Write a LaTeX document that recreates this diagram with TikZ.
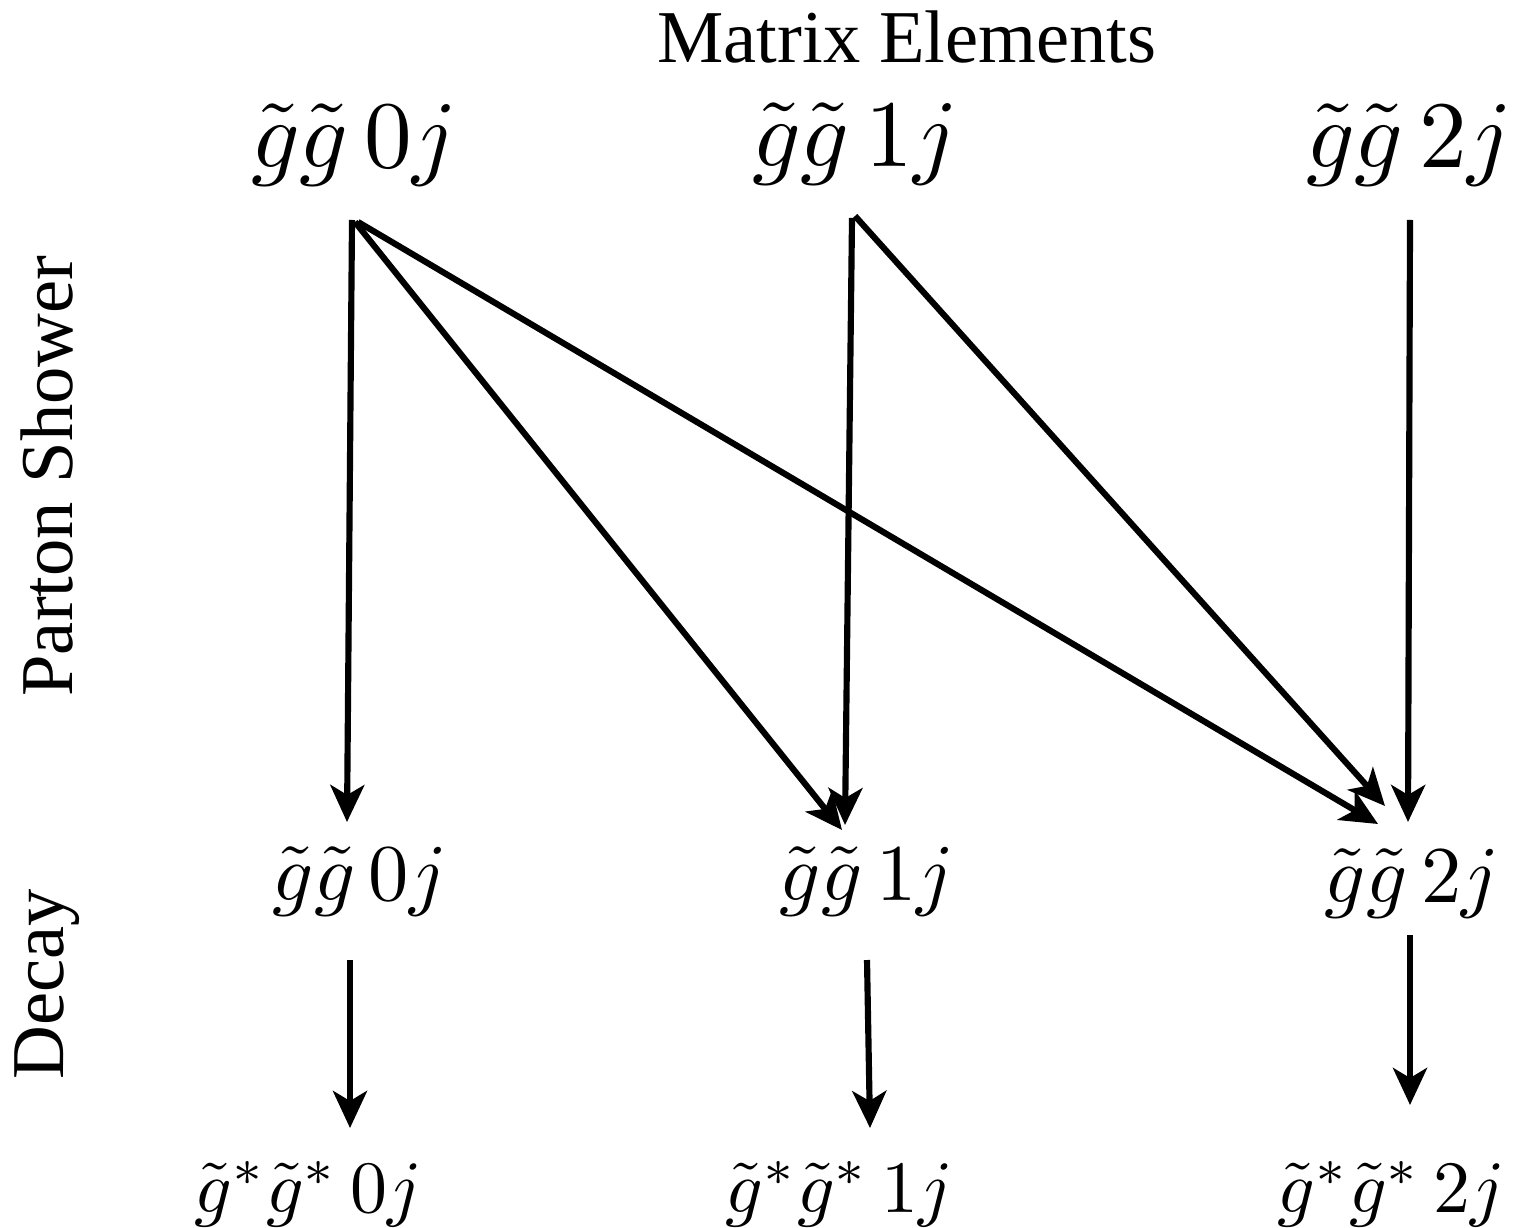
\documentclass[tikz,border=0pt]{standalone}
\usepackage{fontspec}
\setmainfont{Liberation Serif}
\usetikzlibrary{arrows.meta}
\begin{document}
\begin{tikzpicture}[x=0.01cm,y=-0.01cm,
  arr/.style={line width=1.75pt,-{Stealth[length=0.37cm,width=0.34cm,inset=0.1cm]}},
  bigm/.style={anchor=base,inner sep=0pt,scale=2.71,font=\normalsize},
  midm/.style={anchor=base,inner sep=0pt,scale=2.29,font=\normalsize},
  lowm/.style={anchor=base,inner sep=0pt,scale=2.1,font=\normalsize},
  lab/.style={inner sep=0pt,font=\fontsize{21.2}{25}\selectfont}]
\useasboundingbox (0,0) rectangle (1516,1228);
\node[lab,anchor=base] (me) at (907,63) {Matrix Elements};
\node[lab,rotate=90] (ps) at (47,476) {Parton Shower};
\node[lab,rotate=90] (dc) at (47,984) {Decay};
% top row
\node[bigm] (t0) at (354,168) {$\tilde g\tilde g\,0j$};
\node[bigm] (t1) at (855,167) {$\tilde g\tilde g\,1j$};
\node[bigm] (t2) at (1409,168) {$\tilde g\tilde g\,2j$};
% middle row
\node[midm] (m0) at (360,900) {$\tilde g\tilde g\,0j$};
\node[midm] (m1) at (867,900) {$\tilde g\tilde g\,1j$};
\node[midm] (m2) at (1412,902) {$\tilde g\tilde g\,2j$};
% bottom row
\node[lowm] (b0) at (308,1212) {$\tilde g^*\tilde g^*\,0j$};
\node[lowm] (b1) at (839,1212) {$\tilde g^*\tilde g^*\,1j$};
\node[lowm] (b2) at (1391,1212) {$\tilde g^*\tilde g^*\,2j$};
% parton shower arrows
\draw[arr] ([shift={(-2,52)}]t0.base) -- ([shift={(-13,-78)}]m0.base);
\draw[arr] ([shift={(1,54)}]t0.base) -- ([shift={(-25,-70)}]m1.base);
\draw[arr] ([shift={(4,54)}]t0.base) -- ([shift={(-34,-78)}]m2.base);
\draw[arr] ([shift={(-3,51)}]t1.base) -- ([shift={(-22,-75)}]m1.base);
\draw[arr] ([shift={(0,49)}]t1.base) -- ([shift={(-27,-96)}]m2.base);
\draw[arr] ([shift={(1,52)}]t2.base) -- ([shift={(-4,-80)}]m2.base);
% decay arrows
\draw[arr] ([shift={(-10,60)}]m0.base) -- ([shift={(42,-84)}]b0.base);
\draw[arr] ([shift={(0,60)}]m1.base) -- ([shift={(31,-84)}]b1.base);
\draw[arr] ([shift={(-2,33)}]m2.base) -- ([shift={(19,-107)}]b2.base);
\end{tikzpicture}
\end{document}
